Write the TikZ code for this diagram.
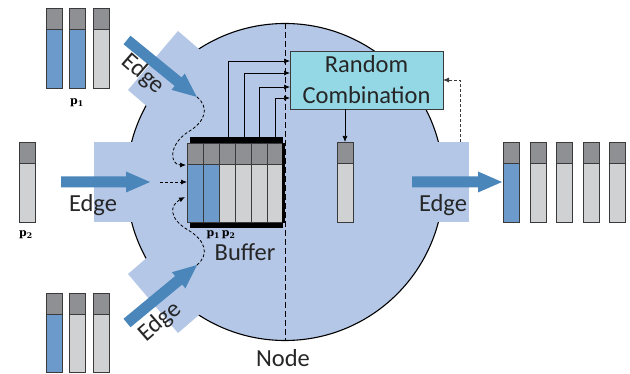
\documentclass[tikz,border=0pt]{standalone}
\usepackage{fontspec}
\setmainfont{Carlito}
\newfontfamily\pfont{DejaVu Serif}
\usetikzlibrary{arrows.meta}
\definecolor{nodebg}{HTML}{B4C7E7}
\definecolor{arrowblue}{HTML}{4A86BA}
\definecolor{pgrey}{HTML}{8F9094}
\definecolor{plight}{HTML}{D0D1D3}
\definecolor{pblue}{HTML}{6C9BCB}
\definecolor{pline}{HTML}{3A3A3A}
\definecolor{rcfill}{HTML}{93D8E4}
\definecolor{txt}{HTML}{262626}
\newcommand\fatarrow[3]{\fill[arrowblue, shift={#1}, rotate=#2] (0,-5.5) -- (#3-24,-5.5) -- (#3-24,-10.5) -- (#3,0) -- (#3-24,10.5) -- (#3-24,5.5) -- (0,5.5) -- cycle;}
\newcommand\pkt[4]{%
  \filldraw[pktline, fill=pgrey] (#1,#2) rectangle (#1+16,#2+21);
  \filldraw[pktline, fill=#4] (#1,#2+21) rectangle (#1+16,#3);}
\newcommand\pp[1]{p\textsubscript{#1}}
\begin{document}
\begin{tikzpicture}[x=1pt,y=-1pt,
  pktline/.style={draw=pline, line width=0.8pt},
  lbl/.style={font=\fontsize{24.5}{30}\selectfont, text=txt, inner sep=0pt},
  plbl/.style={font=\pfont\bfseries\fontsize{11}{12}\selectfont, inner sep=0pt},
  conn/.style={draw=black, line width=0.7pt, -{Latex[length=6pt,width=5pt]}},
  dconn/.style={draw=black, line width=0.8pt, dash pattern=on 3pt off 2pt, -{Latex[length=6pt,width=5pt]}},
  edgerect/.style={fill=nodebg},
  rcbox/.style={draw=pline, line width=0.9pt, fill=rcfill, minimum width=153pt, minimum height=58pt, align=center, font=\fontsize{24.5}{31}\selectfont, text=txt, inner sep=0pt}]
\useasboundingbox (0,0) rectangle (630,374);
% node circle
\fill[nodebg] (285,182) circle (158.5);
\draw[black, line width=1.1pt] (285,182) circle (158.5);
% edge regions
\fill[edgerect] (94,142) rectangle (150,222);
\fill[edgerect] (412,142) rectangle (469,222);
\fill[edgerect] (178,31) -- (221,68) -- (171,127) -- (128,90) -- cycle;
\fill[edgerect] (178,333) -- (221,296) -- (171,237) -- (128,274) -- cycle;
% divider
\draw[black, line width=0.8pt, dash pattern=on 6pt off 3pt] (285,23) -- (285,340);
% fat arrows
\fatarrow{(127,40)}{-39.2}{90}
\fatarrow{(127,323)}{39.6}{91}
\fatarrow{(61,182)}{0}{89}
\fatarrow{(412,182)}{0}{90}
% buffer
\fill[black] (190,137) rectangle (283,143);
\fill[black] (190,223) rectangle (283,228);
\foreach \i in {0,...,5} {
  \pgfmathsetmacro\bx{187+16*\i}
  \ifnum\i<2 \def\bc{pblue}\else\def\bc{plight}\fi
  \pkt{\bx}{143}{222}{\bc}
}
\fill[black] (281.5,143) rectangle (285,223);
% packets
\pkt{46}{8}{88}{pblue}
\pkt{69}{8}{88}{pblue}
\pkt{93}{8}{88}{plight}
\pkt{19}{142}{222}{plight}
\pkt{46}{293}{372}{pblue}
\pkt{69}{293}{372}{plight}
\pkt{93}{293}{372}{plight}
\pkt{337}{142}{222}{plight}
\pkt{503}{142}{222}{pblue}
\pkt{530}{142}{222}{plight}
\pkt{556}{142}{222}{plight}
\pkt{583}{142}{222}{plight}
\pkt{609}{142}{222}{plight}
% random combination
\node[rcbox] (rc) at (366.5,80) {Random\\Combination};
\coordinate (mid) at (345,142);
\coordinate (b1) at (228,137); \coordinate (r1) at (290,61);
\coordinate (b2) at (244,137); \coordinate (r2) at (290,73);
\coordinate (b3) at (259.5,137); \coordinate (r3) at (290,87);
\coordinate (b4) at (275,137); \coordinate (r4) at (290,98);
\draw[conn] (b1) |- (r1);
\draw[conn] (b2) |- (r2);
\draw[conn] (b3) |- (r3);
\draw[conn] (b4) |- (r4);
\draw[conn] (rc.south -| mid) -- (mid);
\coordinate (fb) at (460,142); \coordinate (fbe) at (443,80);
\draw[dconn, draw=pline] (fb) |- (fbe);
% dashed inputs to buffer
\coordinate (t1) at (197,97); \coordinate (t2) at (186,165);
\coordinate (m1) at (160,182); \coordinate (m2) at (187,182);
\coordinate (u1) at (197,265); \coordinate (u2) at (185,197);
\draw[dconn] (t1) .. controls (210,108) and (205,122) .. (188,132) .. controls (168,145) and (170,165) .. (t2);
\draw[dconn] (m1) -- (m2);
\draw[dconn] (u1) .. controls (210,254) and (205,240) .. (188,230) .. controls (168,218) and (170,205) .. (u2);
% labels
\node[lbl] (e1) at (93,205) {Edge};
\node[lbl] (e2) at (443,205) {Edge};
\node[lbl, rotate=-41] (e3) at (143,74) {Edge};
\node[lbl, rotate=41] (e4) at (160,322) {Edge};
\node[lbl] (bl) at (245,252) {Buffer};
\node[lbl] (nl) at (283,358) {Node};
\node[plbl] (p1) at (77,103) {\pp{1}};
\node[plbl] (p2) at (26,235) {\pp{2}};
\node[plbl] (p12) at (221,235) {\pp{1}\,\pp{2}};
\end{tikzpicture}
\end{document}
